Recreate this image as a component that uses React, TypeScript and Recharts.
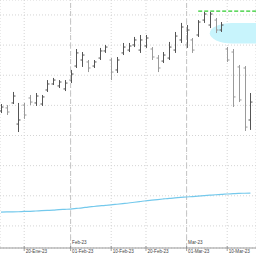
import React from 'react';
import {
  ComposedChart, Bar, Line, XAxis, YAxis, CartesianGrid, ReferenceLine, ReferenceArea,
} from 'recharts';

// Trading-day index (0 = 16-Ene-23)
const high = [90.9, 90.2, 98.9, 91.6, 91.6, 96.9, 98.2, 96.9, 106.8, 108.2, 106.8, 106.8, 113.5, 127.4, 125.4, 120.1, 120.1, 128.1, 130.1, 121.4, 122.1, 131.4, 131.4, 135.4, 136.7, 136.7, 128.7, 123.4, 125.4, 132.1, 138.7, 144.7, 143.3, 134.7, 146.6, 152.0, 152.0, 148.0, 145.3, 128.7, 127.4, 116.8, 116.1, 98.2];
const low = [84.9, 83.6, 90.9, 72.3, 81.0, 90.2, 89.6, 89.6, 98.9, 103.5, 101.5, 99.5, 104.8, 114.8, 115.5, 112.1, 114.8, 120.1, 124.8, 106.8, 111.5, 123.4, 125.4, 128.7, 124.8, 128.1, 120.1, 112.1, 118.1, 120.1, 124.8, 131.4, 128.1, 124.8, 135.4, 144.7, 141.3, 138.0, 138.7, 118.8, 88.9, 92.2, 73.0, 73.7];
const open = [86.3, 88.3, 91.6, 77.6, 90.2, 94.9, 91.6, 90.9, 100.2, 104.2, 102.9, 100.9, 106.8, 116.1, 120.1, 118.8, 116.1, 121.4, 126.1, 120.1, 113.5, 124.8, 126.7, 130.1, 126.7, 129.4, 127.4, 121.4, 119.4, 121.4, 126.7, 133.4, 130.1, 133.4, 136.7, 146.6, 143.3, 146.6, 140.0, 127.4, 125.4, 115.5, 114.8, 80.3];
const close = [88.9, 85.6, 96.2, 80.3, 83.6, 92.2, 96.2, 95.6, 104.2, 106.8, 105.5, 104.8, 110.8, 124.8, 123.4, 114.8, 118.8, 126.1, 128.7, 112.1, 120.1, 128.7, 129.4, 133.4, 133.4, 134.7, 122.1, 114.8, 123.4, 128.7, 136.0, 142.0, 140.0, 126.7, 145.3, 150.6, 150.6, 140.0, 143.3, 120.1, 95.6, 93.6, 75.6, 92.2];
const ma = [19.2, 19.3, 19.3, 19.4, 19.6, 19.7, 19.9, 20.1, 20.3, 20.5, 20.8, 21.0, 21.2, 21.6, 22.0, 22.5, 22.9, 23.3, 23.7, 24.0, 24.4, 24.8, 25.2, 25.7, 26.2, 26.7, 27.1, 27.5, 27.9, 28.3, 28.6, 28.9, 29.2, 29.5, 29.8, 30.1, 30.4, 30.7, 30.9, 31.2, 31.4, 31.6, 31.7, 31.8];

const tickIndex = [4, 12, 19, 25, 32, 39];
const tickLabels = ['20-Ene-23', '01-Feb-23', '10-Feb-23', '20-Feb-23', '01-Mar-23', '10-Mar-23'];
const monthIndex = [12, 32];
const monthLabels = ['Feb-23', 'Mar-23'];
const gridValues = [10, 20, 30, 40, 50, 60, 70, 80, 90, 100, 110, 120, 130, 140, 150];

const targetLevel = 152.6;
const targetFrom = 34;
const targetTo = 46;
const cloudFrom = 36;
const cloudTo = 50;
const cloudLow = 131.1;
const cloudHigh = 144.7;

const rows = high.map((h, i) => ({
  i, high: h, low: low[i], open: open[i], close: close[i], ma: ma[i],
}));

const FONT = 'Arial, "Liberation Sans", sans-serif';

const OhlcShape = (props: any) => {
  const { x, y, width, height } = props;
  const p = props.payload ?? props;
  if (x == null || y == null) return null;
  const cx = Math.round(x + width / 2) + 0.5;
  const span = p.high - p.low || 1;
  const yo = y + ((p.high - p.open) / span) * height;
  const yc = y + ((p.high - p.close) / span) * height;
  const col = p.close >= p.open ? '#555555' : '#9a9a9a';
  return (
    <g>
      <line x1={cx} x2={cx} y1={y} y2={y + height} stroke={col} strokeWidth={1} />
      <line x1={cx - 2} x2={cx} y1={yo} y2={yo} stroke={col} strokeWidth={1} />
      <line x1={cx} x2={cx + 2} y1={yc} y2={yc} stroke={col} strokeWidth={1} />
    </g>
  );
};

const DateTick = (props: any) => {
  const { x, y, payload } = props;
  const k = tickIndex.indexOf(payload.value);
  const label = k >= 0 ? tickLabels[k] : '';
  return (
    <g>
      <line x1={x} x2={x} y1={y - 2} y2={y + 3} stroke="#888" strokeWidth={0.8} />
      <text x={x + 1.5} y={y + 5.2} fontSize={4.6} fill="#444" fontFamily={FONT} textAnchor="start">
        {label}
      </text>
    </g>
  );
};

const CloudShape = (props: any) => {
  const { x, y, width, height } = props;
  return <rect x={x} y={y} width={width} height={height} rx={22} ry={height / 2} fill="#c8f4fc" stroke="none" />;
};

const monthLabel = (text: string) => (props: any) => {
  const vb = props.viewBox || {};
  return (
    <text x={vb.x + 1.5} y={vb.y + vb.height - 4.5} fontSize={4.6} fill="#444" fontFamily={FONT}>
      {text}
    </text>
  );
};

export default function App() {
  return (
    <div style={{ position: 'absolute', left: 0, top: 0, width: 256, height: 256, background: '#fff' }}>
      <ComposedChart
        width={256}
        height={256}
        data={rows}
        margin={{ top: 0, right: 0, left: 0, bottom: 0 }}
      >
        <CartesianGrid stroke="#d4d4d4" strokeDasharray="1 2" />
        <XAxis
          dataKey="i"
          type="number"
          domain={[-0.1724, 43.966]}
          allowDataOverflow
          ticks={tickIndex}
          tick={<DateTick />}
          tickLine={false}
          tickSize={0}
          tickMargin={0}
          height={8}
          axisLine={{ stroke: '#999' }}
          interval={0}
        />
        <YAxis hide type="number" domain={[-4.645, 159.92]} allowDataOverflow ticks={gridValues} />
        {monthIndex.map((m, k) => (
          <ReferenceLine
            key={m}
            x={m}
            stroke="#c4c4c4"
            strokeDasharray="5 3"
            label={monthLabel(monthLabels[k])}
          />
        ))}
        <ReferenceArea
          x1={cloudFrom}
          x2={cloudTo}
          y1={cloudLow}
          y2={cloudHigh}
          ifOverflow="hidden"
          shape={<CloudShape />}
        />
        <Line
          dataKey="ma"
          type="monotone"
          stroke="#74c9ec"
          strokeWidth={1.2}
          dot={false}
          activeDot={false}
          isAnimationActive={false}
        />
        <Bar
          dataKey={(d: any) => [d.low, d.high]}
          barSize={4}
          shape={<OhlcShape />}
          isAnimationActive={false}
        />
        <ReferenceLine
          segment={[{ x: targetFrom, y: targetLevel }, { x: targetTo, y: targetLevel }]}
          stroke="#2ecc2e"
          strokeWidth={1.2}
          strokeDasharray="4 2"
          ifOverflow="hidden"
        />
      </ComposedChart>
    </div>
  );
}
